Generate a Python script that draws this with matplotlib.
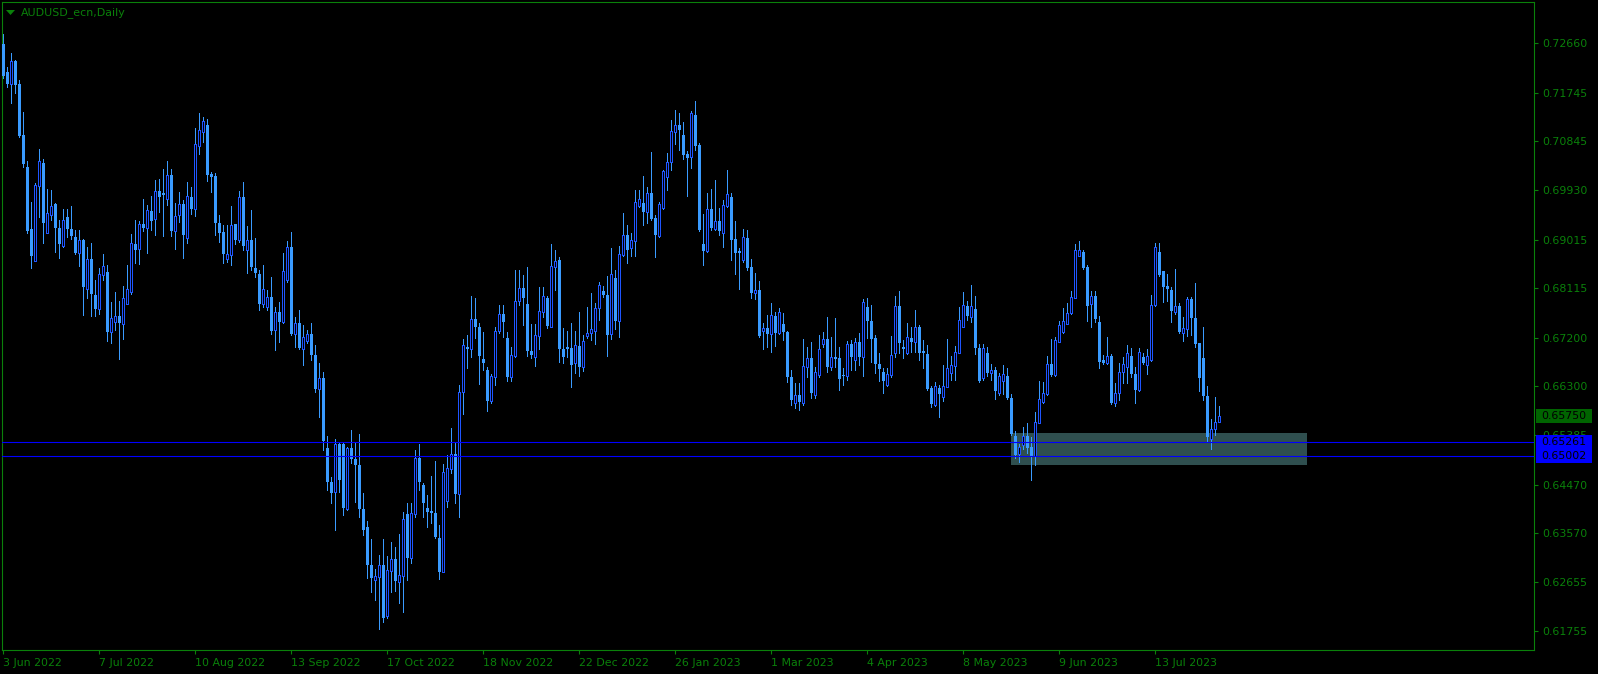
import numpy as np
import matplotlib.pyplot as plt
from matplotlib.patches import Rectangle, Polygon

# Daily AUDUSD candles, 3 Jun 2022 onwards (one value per bar)
opens = [
    0.72648, 0.72128, 0.71905, 0.72332, 0.71905, 0.70959, 0.70365, 0.69215, 0.68621, 0.70013,
    0.70439, 0.69141, 0.69475, 0.69679, 0.69234, 0.68900, 0.69438, 0.69215, 0.69067, 0.68771,
    0.69011, 0.68102, 0.68659, 0.67990, 0.67730, 0.68361, 0.68417, 0.67303, 0.67489, 0.67600,
    0.67452, 0.67823, 0.68045, 0.68937, 0.68844, 0.69308, 0.69234, 0.69549, 0.69401, 0.69920,
    0.69883, 0.69772, 0.70217, 0.69178, 0.69475, 0.69679, 0.69048, 0.69809, 0.69586, 0.70755,
    0.71014, 0.71144, 0.70235, 0.70198, 0.69326, 0.69160, 0.68659, 0.68732, 0.69308, 0.69011,
    0.69809, 0.68825, 0.69011, 0.68491, 0.68380, 0.67823, 0.67767, 0.67953, 0.67340, 0.67674,
    0.67489, 0.68268, 0.68881, 0.67266, 0.67470, 0.66988, 0.67136, 0.67266, 0.66877, 0.66246,
    0.66450, 0.65151, 0.64520, 0.64335, 0.65225, 0.65225, 0.64019, 0.65151, 0.64947, 0.64836,
    0.64019, 0.63685, 0.62980, 0.62702, 0.62758, 0.62980, 0.62034, 0.62869, 0.63091, 0.62665,
    0.62776, 0.63926, 0.63110, 0.63926, 0.64966, 0.64464, 0.64038, 0.63982, 0.63945, 0.63481,
    0.62850, 0.64167, 0.64762, 0.65040, 0.64298, 0.66190, 0.67025, 0.66988, 0.67545, 0.67396,
    0.66802, 0.66598, 0.66023, 0.66468, 0.67322, 0.67637, 0.67192, 0.66468, 0.66858, 0.67878,
    0.68120, 0.67823, 0.66951, 0.66839, 0.67229, 0.67674, 0.67934, 0.67396, 0.68510, 0.68640,
    0.66988, 0.67025, 0.67006, 0.66728, 0.67043, 0.66654, 0.67229, 0.67285, 0.67322, 0.67748,
    0.68064, 0.67990, 0.67266, 0.68306, 0.67508, 0.68732, 0.69104, 0.68862, 0.68992, 0.69642,
    0.69697, 0.69530, 0.69883, 0.69419, 0.69085, 0.69605, 0.70180, 0.70458, 0.71014, 0.71144,
    0.70959, 0.70606, 0.70551, 0.71330, 0.70773, 0.68937, 0.68807, 0.69586, 0.69215, 0.69364,
    0.69141, 0.69642, 0.69809, 0.69030, 0.68807, 0.68640, 0.69048, 0.68510, 0.68027, 0.68083,
    0.67322, 0.67377, 0.67266, 0.67600, 0.67285, 0.67452, 0.67303, 0.66468, 0.65986, 0.66135,
    0.65986, 0.66654, 0.66821, 0.66135, 0.66506, 0.67081, 0.67174, 0.66654, 0.66839, 0.66821,
    0.66506, 0.66487, 0.67081, 0.66784, 0.67118, 0.66839, 0.67767, 0.67508, 0.67192, 0.66710,
    0.66561, 0.66320, 0.66506, 0.66914, 0.67785, 0.67025, 0.66914, 0.67192, 0.67118, 0.67396,
    0.66951, 0.66895, 0.66264, 0.65949, 0.66264, 0.66097, 0.66283, 0.66543, 0.66672, 0.66914,
    0.67396, 0.67785, 0.67582, 0.67730, 0.67006, 0.66450, 0.66914, 0.66543, 0.66598, 0.66172,
    0.66394, 0.66487, 0.66079, 0.65374, 0.65040, 0.65207, 0.65374, 0.65170, 0.65003, 0.65615,
    0.66005, 0.66153, 0.66710, 0.66506, 0.67118, 0.67303, 0.67452, 0.67656, 0.67934, 0.68714,
    0.68789, 0.68510, 0.67823, 0.67971, 0.67489, 0.66784, 0.66728, 0.66858, 0.65986, 0.66172,
    0.66561, 0.66654, 0.66858, 0.66524, 0.66227, 0.66839, 0.66691, 0.66784, 0.67804, 0.68789,
    0.68435, 0.68156, 0.68083, 0.67674, 0.67785, 0.67285, 0.67359, 0.67916, 0.67563, 0.67099,
    0.66821, 0.66116, 0.65318, 0.65504, 0.65634,
]
highs = [
    0.72833, 0.72221, 0.72481, 0.72351, 0.71980, 0.71385, 0.70476, 0.69716, 0.70068, 0.70699,
    0.70513, 0.69957, 0.69939, 0.69697, 0.69382, 0.69586, 0.69586, 0.69642, 0.69197, 0.69197,
    0.69030, 0.68881, 0.68955, 0.68268, 0.68491, 0.68751, 0.68547, 0.67860, 0.68045, 0.67878,
    0.68156, 0.68547, 0.69122, 0.69382, 0.69364, 0.69772, 0.69660, 0.69827, 0.70124, 0.70143,
    0.70328, 0.70476, 0.70328, 0.69697, 0.69901, 0.69753, 0.70087, 0.69994, 0.71088, 0.71367,
    0.71293, 0.71256, 0.70273, 0.70254, 0.69475, 0.69290, 0.69290, 0.69642, 0.69308, 0.69920,
    0.70087, 0.69271, 0.69568, 0.69048, 0.68454, 0.68547, 0.68083, 0.68324, 0.67767, 0.67860,
    0.68771, 0.68992, 0.69160, 0.67582, 0.67711, 0.67433, 0.67340, 0.67470, 0.67062, 0.66728,
    0.66561, 0.65374, 0.64613, 0.65318, 0.65262, 0.65244, 0.65170, 0.65485, 0.65262, 0.65411,
    0.64316, 0.63797, 0.63463, 0.62906, 0.63166, 0.63463, 0.63147, 0.63407, 0.63314, 0.63555,
    0.63963, 0.64130, 0.64130, 0.65114, 0.65225, 0.64501, 0.64279, 0.64631, 0.64910, 0.63722,
    0.64854, 0.65021, 0.65523, 0.65244, 0.66320, 0.67174, 0.67248, 0.67971, 0.67934, 0.67470,
    0.67303, 0.66654, 0.66524, 0.67396, 0.67804, 0.67804, 0.67303, 0.67025, 0.68454, 0.68454,
    0.68361, 0.68510, 0.67452, 0.67452, 0.68139, 0.68139, 0.67971, 0.68937, 0.68825, 0.68696,
    0.67377, 0.67322, 0.67470, 0.67322, 0.67674, 0.67248, 0.67767, 0.68027, 0.67841, 0.68231,
    0.68156, 0.68343, 0.68862, 0.68454, 0.68900, 0.69512, 0.69290, 0.69141, 0.69939, 0.69939,
    0.70198, 0.69994, 0.70643, 0.69475, 0.69716, 0.70309, 0.70625, 0.71237, 0.71423, 0.71367,
    0.71200, 0.70662, 0.71404, 0.71590, 0.70810, 0.69493, 0.69883, 0.69957, 0.70124, 0.69605,
    0.69753, 0.70309, 0.69883, 0.69364, 0.68862, 0.69215, 0.69197, 0.68659, 0.68398, 0.68250,
    0.67470, 0.67619, 0.67841, 0.67674, 0.67748, 0.67656, 0.67322, 0.66598, 0.66357, 0.66357,
    0.67174, 0.67025, 0.67118, 0.66654, 0.67248, 0.67303, 0.67582, 0.67211, 0.67563, 0.67025,
    0.66635, 0.67136, 0.67155, 0.67192, 0.67285, 0.67916, 0.67934, 0.67804, 0.67248, 0.66914,
    0.66635, 0.66635, 0.67229, 0.67971, 0.68064, 0.67155, 0.67470, 0.67396, 0.67711, 0.67433,
    0.67155, 0.67062, 0.66302, 0.66376, 0.66320, 0.66691, 0.67174, 0.66858, 0.67043, 0.67767,
    0.68045, 0.67878, 0.68176, 0.67971, 0.67081, 0.67081, 0.67025, 0.66710, 0.66654, 0.66543,
    0.66691, 0.66635, 0.66153, 0.65466, 0.65225, 0.65541, 0.65615, 0.65355, 0.65819, 0.66394,
    0.66376, 0.66858, 0.67174, 0.67211, 0.67508, 0.67748, 0.67841, 0.68064, 0.68937, 0.68992,
    0.68825, 0.68547, 0.68064, 0.68064, 0.67600, 0.66877, 0.67211, 0.66895, 0.66357, 0.66728,
    0.66839, 0.67062, 0.67006, 0.66654, 0.67006, 0.66914, 0.66988, 0.67990, 0.68955, 0.68955,
    0.68435, 0.68380, 0.68139, 0.68472, 0.67841, 0.67582, 0.67953, 0.67953, 0.68213, 0.67099,
    0.67396, 0.66302, 0.65689, 0.66097, 0.65930,
]
lows = [
    0.72017, 0.71850, 0.71552, 0.71738, 0.70921, 0.70365, 0.69141, 0.68491, 0.68621, 0.69438,
    0.68955, 0.69141, 0.69382, 0.68789, 0.68677, 0.68881, 0.69067, 0.69030, 0.68752, 0.68528,
    0.67619, 0.67934, 0.67600, 0.67600, 0.67637, 0.68268, 0.67136, 0.67099, 0.67340, 0.66802,
    0.67174, 0.67823, 0.68008, 0.68584, 0.68565, 0.69178, 0.68771, 0.69197, 0.69104, 0.69530,
    0.69085, 0.69660, 0.69085, 0.68844, 0.69345, 0.68677, 0.68955, 0.69493, 0.69456, 0.70606,
    0.70829, 0.70105, 0.69901, 0.69104, 0.68974, 0.68584, 0.68603, 0.68547, 0.68937, 0.68974,
    0.68825, 0.68398, 0.68454, 0.68324, 0.67711, 0.67767, 0.67711, 0.67266, 0.66969, 0.67118,
    0.67470, 0.68231, 0.67248, 0.67025, 0.66988, 0.66691, 0.67099, 0.66784, 0.66190, 0.65727,
    0.65114, 0.64372, 0.64130, 0.63629, 0.64335, 0.63908, 0.64000, 0.64873, 0.64149, 0.63871,
    0.63537, 0.62739, 0.62479, 0.62331, 0.61793, 0.61923, 0.61997, 0.62479, 0.62498, 0.62275,
    0.62108, 0.62702, 0.63017, 0.63871, 0.64372, 0.63871, 0.63685, 0.63759, 0.63481, 0.62721,
    0.62850, 0.64056, 0.64687, 0.64130, 0.63871, 0.65782, 0.66635, 0.66839, 0.67192, 0.66339,
    0.66598, 0.65838, 0.65986, 0.66320, 0.67285, 0.67211, 0.66394, 0.66394, 0.66839, 0.67804,
    0.67433, 0.66858, 0.66821, 0.66672, 0.66988, 0.67582, 0.67377, 0.67396, 0.68083, 0.66747,
    0.66728, 0.66839, 0.66283, 0.66543, 0.66487, 0.66580, 0.67192, 0.67155, 0.67081, 0.67526,
    0.67953, 0.66858, 0.67174, 0.67359, 0.67211, 0.68714, 0.68584, 0.68714, 0.68714, 0.69623,
    0.69290, 0.69326, 0.69382, 0.68696, 0.69067, 0.69586, 0.69939, 0.70309, 0.70792, 0.70680,
    0.70513, 0.69827, 0.70346, 0.70680, 0.69178, 0.68547, 0.68789, 0.69197, 0.69197, 0.69104,
    0.68881, 0.69623, 0.68640, 0.68380, 0.68102, 0.68603, 0.68454, 0.67934, 0.67916, 0.67211,
    0.66988, 0.67025, 0.66932, 0.67043, 0.67266, 0.67155, 0.66376, 0.65949, 0.65893, 0.65856,
    0.65949, 0.66468, 0.66079, 0.66079, 0.66468, 0.67025, 0.66561, 0.66598, 0.66654, 0.66227,
    0.66320, 0.66413, 0.66598, 0.66598, 0.66691, 0.66487, 0.67192, 0.66747, 0.66543, 0.66394,
    0.66172, 0.66302, 0.66468, 0.66839, 0.66914, 0.66821, 0.66895, 0.66932, 0.66932, 0.66784,
    0.66635, 0.66227, 0.65912, 0.65930, 0.65727, 0.66023, 0.66283, 0.66413, 0.66413, 0.66914,
    0.67396, 0.67526, 0.67489, 0.66895, 0.66376, 0.66413, 0.66487, 0.66413, 0.66060, 0.66135,
    0.66153, 0.66060, 0.65393, 0.64966, 0.64892, 0.65133, 0.65058, 0.64557, 0.64836, 0.65615,
    0.65986, 0.66135, 0.66487, 0.66487, 0.67118, 0.67285, 0.67452, 0.67637, 0.67934, 0.68714,
    0.68472, 0.67508, 0.67396, 0.67489, 0.66635, 0.66710, 0.66710, 0.65968, 0.65930, 0.66042,
    0.66357, 0.66357, 0.66468, 0.65986, 0.66209, 0.66710, 0.66524, 0.66765, 0.67785, 0.68343,
    0.67860, 0.67878, 0.67489, 0.67637, 0.67285, 0.67136, 0.67229, 0.67248, 0.67025, 0.66209,
    0.66042, 0.65262, 0.65133, 0.65393, 0.65634,
]
closes = [
    0.72054, 0.71905, 0.72332, 0.71887, 0.70940, 0.70420, 0.69178, 0.68714, 0.70031, 0.70476,
    0.69326, 0.69512, 0.69642, 0.69234, 0.68937, 0.69382, 0.69215, 0.69085, 0.68771, 0.69011,
    0.68139, 0.68659, 0.68008, 0.67730, 0.68380, 0.68528, 0.67303, 0.67563, 0.67600, 0.67470,
    0.67934, 0.68102, 0.68955, 0.68825, 0.69308, 0.69234, 0.69568, 0.69364, 0.69920, 0.69809,
    0.69846, 0.70217, 0.69178, 0.69456, 0.69679, 0.69104, 0.69827, 0.69586, 0.70792, 0.71052,
    0.71219, 0.70217, 0.70180, 0.69326, 0.69141, 0.68751, 0.68751, 0.69290, 0.69011, 0.69809,
    0.68900, 0.69011, 0.68510, 0.68398, 0.67823, 0.68102, 0.67953, 0.67322, 0.67674, 0.67489,
    0.68435, 0.68881, 0.67266, 0.67470, 0.67006, 0.67211, 0.67266, 0.66877, 0.66246, 0.66450,
    0.65281, 0.64520, 0.64316, 0.65225, 0.64557, 0.64038, 0.65151, 0.64947, 0.64836, 0.64019,
    0.63629, 0.62980, 0.62739, 0.62776, 0.62980, 0.61997, 0.62887, 0.63091, 0.62684, 0.62795,
    0.63834, 0.63110, 0.63945, 0.64966, 0.64520, 0.64130, 0.63963, 0.63945, 0.63500, 0.62850,
    0.64706, 0.64780, 0.65040, 0.64298, 0.66190, 0.67062, 0.66988, 0.67545, 0.67396, 0.66858,
    0.66728, 0.66023, 0.66487, 0.67322, 0.67637, 0.67489, 0.66468, 0.66877, 0.67878, 0.68120,
    0.67934, 0.66951, 0.66877, 0.67248, 0.67693, 0.67971, 0.67415, 0.68528, 0.68621, 0.66988,
    0.66839, 0.66988, 0.66691, 0.67062, 0.66654, 0.67136, 0.67285, 0.67359, 0.67748, 0.68176,
    0.67990, 0.67248, 0.68380, 0.67508, 0.68751, 0.69104, 0.68825, 0.69011, 0.69716, 0.69772,
    0.69530, 0.69883, 0.69401, 0.69104, 0.69679, 0.70291, 0.70458, 0.71033, 0.71144, 0.71052,
    0.70588, 0.70532, 0.71367, 0.70755, 0.69197, 0.68807, 0.69586, 0.69234, 0.69364, 0.69178,
    0.69660, 0.69864, 0.69011, 0.68771, 0.68771, 0.69067, 0.68491, 0.68027, 0.68083, 0.67229,
    0.67377, 0.67266, 0.67619, 0.67285, 0.67674, 0.67303, 0.66468, 0.66042, 0.66135, 0.66005,
    0.66672, 0.66821, 0.66172, 0.66561, 0.66988, 0.67174, 0.66654, 0.66839, 0.66802, 0.66431,
    0.66487, 0.67081, 0.66839, 0.67118, 0.66839, 0.67860, 0.67508, 0.67174, 0.66710, 0.66617,
    0.66394, 0.66524, 0.66877, 0.67785, 0.67099, 0.66988, 0.67211, 0.67118, 0.67396, 0.66914,
    0.66914, 0.66246, 0.65968, 0.66302, 0.66153, 0.66302, 0.66635, 0.66691, 0.66932, 0.67526,
    0.67804, 0.67600, 0.67785, 0.67006, 0.66394, 0.67006, 0.66543, 0.66598, 0.66209, 0.66487,
    0.66524, 0.66079, 0.65411, 0.65021, 0.65170, 0.65374, 0.65151, 0.65003, 0.65634, 0.66060,
    0.66172, 0.66710, 0.66506, 0.67155, 0.67433, 0.67508, 0.67656, 0.67953, 0.68825, 0.68825,
    0.68491, 0.67785, 0.67971, 0.67545, 0.66747, 0.66728, 0.66858, 0.65986, 0.66172, 0.66561,
    0.66710, 0.66914, 0.66524, 0.66227, 0.66932, 0.66728, 0.66858, 0.67804, 0.68881, 0.68361,
    0.68139, 0.68102, 0.67693, 0.67785, 0.67303, 0.67377, 0.67916, 0.67563, 0.67081, 0.66450,
    0.66116, 0.65355, 0.65504, 0.65634, 0.65750,
]

price_ticks = [0.72660, 0.71745, 0.70845, 0.69930, 0.69015, 0.68115, 0.67200,
               0.66300, 0.65385, 0.64470, 0.63570, 0.62655, 0.61755]
date_labels = ["3 Jun 2022", "7 Jul 2022", "10 Aug 2022", "13 Sep 2022", "17 Oct 2022",
               "18 Nov 2022", "22 Dec 2022", "26 Jan 2023", "1 Mar 2023", "4 Apr 2023",
               "8 May 2023", "9 Jun 2023", "13 Jul 2023"]
bid = 0.65750
level_lines = [0.65261, 0.65002]
zone_top, zone_bottom = 0.65429, 0.64840
zone_start, zone_end = 252, 326   # bar numbers

GREEN = '#0a800a'
BEAR = '#3a9bff'
BULL_EDGE = '#1f55ff'
FS = 7.9

W, H = 1598, 674
fig = plt.figure(figsize=(W / 100, H / 100), dpi=100, facecolor='black')
ax = fig.add_axes([2 / W, 24 / H, 1532 / W, 648 / H], facecolor='black')

o = np.array(opens); h = np.array(highs); l = np.array(lows); c = np.array(closes)
x = np.arange(len(o))
bull = c >= o
bear = ~bull

# zone rectangle sits behind the candles
ax.add_patch(Rectangle((zone_start, zone_bottom), zone_end - zone_start, zone_top - zone_bottom,
                       facecolor='#2f4f4f', edgecolor='none', zorder=1))

ax.vlines(x, l, h, color=BEAR, lw=0.7, zorder=2, antialiased=False)
body = np.where(np.abs(c - o) < 0.00019, 0.00019, np.abs(c - o))
ax.bar(x[bear], body[bear], bottom=c[bear], width=0.75, color=BEAR, lw=0,
       zorder=3, antialiased=False)
ax.bar(x[bull], body[bull], bottom=o[bull], width=0.6, facecolor='black',
       edgecolor=BULL_EDGE, lw=0.6, zorder=3, antialiased=False)

for lv in level_lines:
    ax.axhline(lv, color='#0000ff', lw=0.8, zorder=4)

ax.set_xlim(-0.25, 382.75)
ax.set_ylim(0.61402, 0.73426)

for s in ax.spines.values():
    s.set_color(GREEN)
    s.set_linewidth(0.8)

ax.yaxis.tick_right()
ax.set_yticks(price_ticks)
ax.set_yticklabels([f"{p:.5f}" for p in price_ticks])
ax.tick_params(axis='y', colors=GREEN, length=3, width=0.8, pad=3, labelsize=FS,
               labelcolor=GREEN)

ax.set_xticks(np.arange(len(date_labels)) * 24)
ax.set_xticklabels(date_labels)
ax.tick_params(axis='x', colors=GREEN, length=3, width=0.8, pad=2.5, labelsize=FS,
               labelcolor=GREEN)
for lab in ax.get_xticklabels():
    lab.set_ha('left')

# title with the small menu arrow
fig.add_artist(Polygon([[6 / W, 1 - 10 / H], [15 / W, 1 - 10 / H], [10.5 / W, 1 - 15 / H]],
                       closed=True, transform=fig.transFigure, facecolor=GREEN, edgecolor='none'))
fig.text(21 / W, 1 - 12.5 / H, "AUDUSD_ecn,Daily", color=GREEN, fontsize=FS,
         va='center', ha='left')

# price tags on the right scale
def tag(price, text, colour):
    yc = ax.transData.transform((0, price))[1] / H
    fig.add_artist(Rectangle((1536 / W, yc - 7 / H), 56 / W, 14 / H,
                             transform=fig.transFigure, facecolor=colour,
                             edgecolor='none', zorder=5))
    fig.text(1541 / W, yc, text, color='black', fontsize=FS, va='center', ha='left', zorder=6)

tag(bid, f"{bid:.5f}", '#006400')
for lv in level_lines:
    tag(lv, f"{lv:.5f}", '#0000ff')

fig.savefig('out.png', dpi=100, facecolor='black')
